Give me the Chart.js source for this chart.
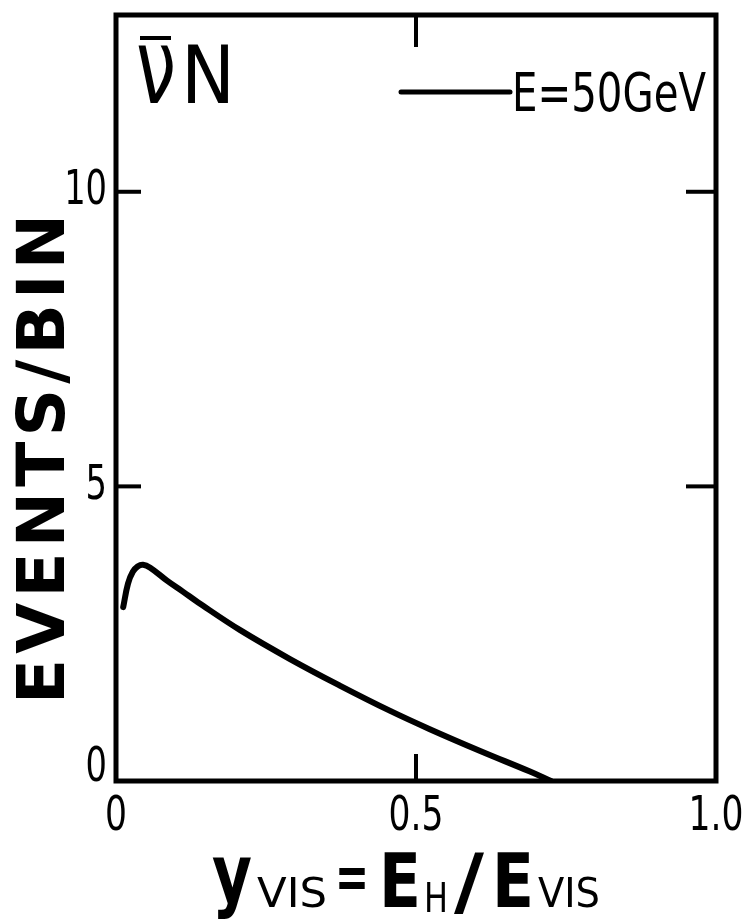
<!DOCTYPE html>
<html><head><meta charset="utf-8">
<script src="https://cdn.jsdelivr.net/npm/chart.js@4/dist/chart.umd.min.js"></script>
<style>html,body{margin:0;padding:0;background:#fff;} canvas{display:block;}</style>
</head><body>
<canvas id="c" width="742" height="921"></canvas>
<script>
// ---- data ----
const yVisValues   = [0.012, 0.020, 0.028, 0.036, 0.045, 0.057, 0.085, 0.112, 0.137, 0.207, 0.290, 0.373, 0.457, 0.523, 0.607, 0.690, 0.725];
const eventsPerBin = [2.95,  3.35,  3.55,  3.64,  3.67,  3.62,  3.40,  3.21,  3.03,  2.56,  2.07,  1.62,  1.19,  0.88,  0.51,  0.16,  0.00];
const xTickValues = [0, 0.5, 1.0];
const xTickLabels = ['0', '0.5', '1.0'];
const yTickValues = [0, 5, 10];
const yTickLabels = ['0', '5', '10'];
const xRange = [0, 1.0];
const yRange = [0, 13];
const seriesLabel = 'E=50GeV';
const yAxisTitle = 'EVENTS/BIN';

const FONT = '"DejaVu Sans Condensed", "DejaVu Sans", sans-serif';
const INK = '#000';

const points = yVisValues.map((x, i) => ({x, y: eventsPerBin[i]}));

function drawText(ctx, txt, x, y, font, opts = {}) {
  ctx.save();
  ctx.font = font;
  ctx.fillStyle = INK;
  ctx.textAlign = opts.align || 'left';
  ctx.textBaseline = opts.baseline || 'alphabetic';
  const w = ctx.measureText(txt).width;
  const sx = opts.width ? opts.width / w : (opts.sx || 1);
  ctx.translate(x, y);
  ctx.scale(sx, 1);
  ctx.fillText(txt, 0, 0);
  ctx.restore();
  return w * sx;
}

const decor = {
  id: 'decor',
  afterDraw(chart) {
    const {ctx, chartArea: a, scales: {x, y}} = chart;
    ctx.save();
    ctx.strokeStyle = INK;
    ctx.lineCap = 'square';
    // frame
    ctx.lineWidth = 5;
    ctx.strokeRect(a.left, a.top, a.right - a.left, a.bottom - a.top);
    // inward ticks
    ctx.lineWidth = 4;
    ctx.lineCap = 'butt';
    yTickValues.filter(v => v > yRange[0] && v < yRange[1]).forEach(v => {
      const py = y.getPixelForValue(v);
      ctx.beginPath(); ctx.moveTo(a.left, py); ctx.lineTo(a.left + 25, py); ctx.stroke();
      ctx.beginPath(); ctx.moveTo(a.right, py); ctx.lineTo(a.right - 30, py); ctx.stroke();
    });
    xTickValues.filter(v => v > xRange[0] && v < xRange[1]).forEach(v => {
      const px = x.getPixelForValue(v);
      ctx.beginPath(); ctx.moveTo(px, a.top); ctx.lineTo(px, a.top + 32); ctx.stroke();
      ctx.beginPath(); ctx.moveTo(px, a.bottom); ctx.lineTo(px, a.bottom - 27); ctx.stroke();
    });
    // tick labels (narrow digits as in the reference)
    const tickFont = '48px ' + FONT;
    yTickValues.forEach((v, i) => {
      const py = y.getPixelForValue(v);
      const off = v === yRange[0] ? -12 : 0;
      drawText(ctx, yTickLabels[i], a.left - 9, py + off, tickFont, {align: 'right', baseline: 'middle', sx: 0.78});
    });
    xTickValues.forEach((v, i) => {
      const px = x.getPixelForValue(v);
      drawText(ctx, xTickLabels[i], px, a.bottom + 37, tickFont, {align: 'center', baseline: 'middle', sx: 0.8});
    });
    // legend (inside, top right)
    ctx.lineWidth = 5;
    ctx.lineCap = 'round';
    ctx.beginPath(); ctx.moveTo(401, 92); ctx.lineTo(510, 92); ctx.stroke();
    drawText(ctx, chart.data.datasets[0].label, 512, 111, '54px ' + FONT, {width: 194});
    // panel label: anti-neutrino on nucleon
    drawText(ctx, 'ν', 136, 103, '106px ' + FONT, {width: 40});
    drawText(ctx, 'N', 181, 103, '80px ' + FONT, {width: 54});
    ctx.lineWidth = 4;
    ctx.lineCap = 'butt';
    ctx.beginPath(); ctx.moveTo(140, 38); ctx.lineTo(171, 38); ctx.stroke();
    // y axis title
    ctx.save();
    ctx.translate(64, 459);
    ctx.rotate(-Math.PI / 2);
    ctx.font = 'bold 66px "DejaVu Sans", sans-serif';
    const w0 = ctx.measureText(yAxisTitle).width;
    const ls = (490 - w0) / (yAxisTitle.length - 1);
    ctx.letterSpacing = ls + 'px';
    ctx.fillStyle = INK;
    ctx.textAlign = 'center';
    ctx.textBaseline = 'alphabetic';
    ctx.fillText(yAxisTitle, ls / 2, 0);
    ctx.restore();
    // x axis title: y_VIS = E_H / E_VIS
    const big = 'bold 74px ' + FONT, sub = '40px ' + FONT;
    let cx = 212;
    cx += drawText(ctx, 'y', cx, 902, 'bold 80px ' + FONT, {width: 40}) + 5;
    cx += drawText(ctx, 'VIS', cx, 907, sub, {width: 70}) + 8;
    cx += drawText(ctx, '=', cx, 898, 'bold 60px ' + FONT, {width: 34}) + 10;
    cx += drawText(ctx, 'E', cx, 907, big, {width: 42}) + 3;
    cx += drawText(ctx, 'H', cx, 912, sub, {width: 24}) + 6;
    cx += drawText(ctx, '/', cx, 907, big, {width: 30}) + 8;
    cx += drawText(ctx, 'E', cx, 907, big, {width: 42}) + 4;
    drawText(ctx, 'VIS', cx, 907, sub, {width: 62});
    ctx.restore();
  }
};

new Chart(document.getElementById('c'), {
  type: 'scatter',
  data: {
    datasets: [{
      label: seriesLabel,
      data: points,
      showLine: true,
      borderColor: INK,
      backgroundColor: INK,
      borderWidth: 6,
      pointRadius: 0,
      tension: 0.4,
      borderCapStyle: 'round',
      borderJoinStyle: 'round'
    }]
  },
  options: {
    responsive: false,
    animation: false,
    devicePixelRatio: 1,
    layout: {padding: {top: 15, right: 26, left: 0, bottom: 0}},
    plugins: {legend: {display: false}, tooltip: {enabled: false}, title: {display: false}},
    scales: {
      x: {
        type: 'linear', min: xRange[0], max: xRange[1],
        afterBuildTicks: s => { s.ticks = xTickValues.map(v => ({value: v})); },
        afterFit: s => { s.height = 140; s.paddingLeft = 0; s.paddingRight = 0; },
        grid: {display: false, drawTicks: false},
        border: {display: false},
        ticks: {display: false}
      },
      y: {
        type: 'linear', min: yRange[0], max: yRange[1],
        afterBuildTicks: s => { s.ticks = yTickValues.map(v => ({value: v})); },
        afterFit: s => { s.width = 116; s.paddingTop = 0; s.paddingBottom = 0; },
        grid: {display: false, drawTicks: false},
        border: {display: false},
        ticks: {display: false}
      }
    }
  },
  plugins: [decor]
});
</script>
</body></html>
